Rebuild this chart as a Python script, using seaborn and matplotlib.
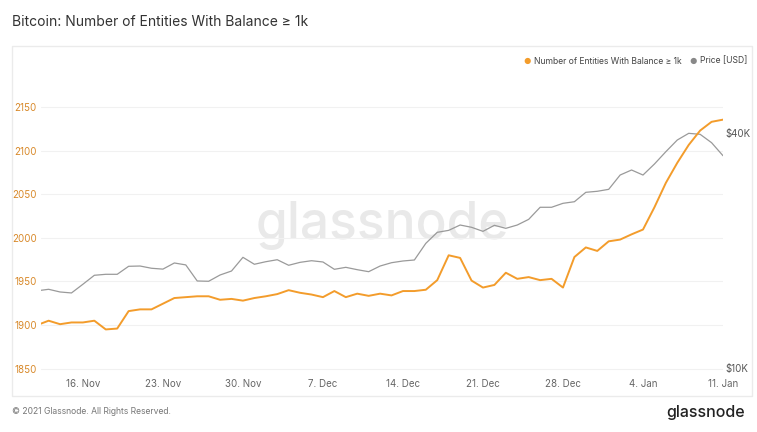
import matplotlib
matplotlib.use("Agg")
import matplotlib.pyplot as plt
import matplotlib.dates as mdates
from matplotlib.patches import Rectangle
from matplotlib.lines import Line2D
from matplotlib.ticker import FixedLocator, FuncFormatter, NullLocator
import seaborn as sns
import pandas as pd

# ---- data ----
dates = pd.date_range("2020-11-12", "2021-01-11", freq="D")
entities = [1900, 1905, 1901, 1903, 1903, 1905, 1895, 1896, 1916, 1918,
            1918, 1924.5, 1931, 1932, 1933, 1933, 1929, 1930, 1928, 1931,
            1933, 1935.5, 1940, 1937, 1935, 1932, 1939, 1932, 1936, 1933.5,
            1936, 1934, 1939, 1939, 1940.5, 1951.5, 1980, 1977, 1951, 1943,
            1946, 1960, 1953, 1955, 1951.5, 1953, 1943, 1978, 1989, 1985,
            1996, 1998, 2004, 2009.5, 2035, 2063, 2086, 2106.5, 2123, 2133,
            2135.5]
price = [15800, 15940, 15690, 15600, 16420, 17310, 17410, 17410, 18250, 18280,
         18040, 17950, 18610, 18400, 16740, 16710, 17340, 17750, 19240, 18470,
         18750, 18970, 18360, 18680, 18860, 18720, 17930, 18140, 17890, 17680,
         18280, 18640, 18830, 18940, 20890, 22290, 22550, 23270, 22960, 22420,
         23230, 22820, 23270, 24060, 25830, 25830, 26440, 26690, 28210, 28380,
         28710, 31230, 32170, 31230, 33320, 35830, 38380, 39920, 39690, 37780,
         34990]
left_ticks = [1850, 1900, 1950, 2000, 2050, 2100, 2150]
right_ticks = [10000, 40000]
right_labels = ["$10K", "$40K"]
x_ticks = pd.date_range("2020-11-16", "2021-01-11", freq="7D")

df = pd.DataFrame({"date": dates, "entities": entities, "price": price})

ORANGE = "#f39c2b"
GRAY = "#9a9a9a"
FONT = ["Inter", "DejaVu Sans"]

sns.set_theme(style="white")
plt.rcParams["font.family"] = FONT

W, H = 757, 432
fig = plt.figure(figsize=(W / 100, H / 100), dpi=100)
fig.patch.set_facecolor("white")

def fx(px):
    return px / W

def fy(py):
    return 1 - py / H

# card border
fig.patches.append(Rectangle((fx(12), fy(396)), fx(752) - fx(12), fy(46) - fy(396),
                             transform=fig.transFigure, fill=False,
                             edgecolor="#ebebeb", linewidth=1.0, zorder=-2))

# watermark (beneath the axes)
fig.text(fx(382), fy(225), "glassnode", ha="center", va="center",
         fontsize=37, color="#e9e9e9", fontweight="medium", family=FONT, zorder=-1)

ax = fig.add_axes([fx(41), fy(372), fx(723) - fx(41), fy(96) - fy(372)])
ax2 = ax.twinx()

sns.lineplot(data=df, x="date", y="price", ax=ax2, color=GRAY, linewidth=0.9, zorder=2)
sns.lineplot(data=df, x="date", y="entities", ax=ax, color=ORANGE, linewidth=1.4)
ax.set_zorder(ax2.get_zorder() + 1)
ax.patch.set_visible(False)
ax2.patch.set_visible(False)

# left axis
ax.set_ylim(1846.2, 2162.6)
ax.set_yticks(left_ticks)
ax.tick_params(axis="y", colors="#d8892a", labelsize=7, length=0, pad=3)
for lab in ax.get_yticklabels():
    lab.set_color("#d8892a")
ax.grid(False)
# horizontal grid drawn beneath the price line (on the lower axes)
for t in left_ticks:
    ax2.add_line(Line2D([0, 1], [t, t], transform=ax.get_yaxis_transform(),
                        color="#f1f1f1", linewidth=0.8, zorder=0.5))

# right axis (log)
ax2.set_yscale("log")
ax2.set_ylim(9796, 49730)
ax2.yaxis.set_major_locator(FixedLocator(right_ticks))
ax2.yaxis.set_minor_locator(NullLocator())
ax2.yaxis.set_major_formatter(FuncFormatter(lambda v, p: right_labels[right_ticks.index(int(round(v)))] if int(round(v)) in right_ticks else ""))
ax2.tick_params(axis="y", colors="#555555", labelsize=7, length=0, pad=2)
ax2.grid(False)

# x axis
ax.set_xlim(pd.Timestamp("2020-11-12 08:00"), pd.Timestamp("2021-01-11 00:00"))
ax.set_xticks(x_ticks)
ax.xaxis.set_major_formatter(mdates.DateFormatter("%-d. %b"))
ax.tick_params(axis="x", colors="#666666", labelsize=7, length=0, pad=5)

for a in (ax, ax2):
    a.set_xlabel("")
    a.set_ylabel("")
    for s in a.spines.values():
        s.set_visible(False)

# title
fig.text(fx(12), fy(22), "Bitcoin: Number of Entities With Balance ≥ 1k",
         ha="left", va="center", fontsize=10, color="#333333", family=FONT)

# legend
fig.text(fx(527), fy(61), "●", ha="center", va="center", fontsize=6, color=ORANGE, family=FONT)
fig.text(fx(534), fy(61), "Number of Entities With Balance ≥ 1k", ha="left", va="center",
         fontsize=6.2, color="#444444", family=FONT)
fig.text(fx(693), fy(61), "●", ha="center", va="center", fontsize=6, color="#888888", family=FONT)
fig.text(fx(700), fy(61), "Price [USD]", ha="left", va="center",
         fontsize=6.2, color="#444444", family=FONT)

# footer
fig.text(fx(12), fy(412), "© 2021 Glassnode. All Rights Reserved.", ha="left", va="center",
         fontsize=6.2, color="#777777", family=FONT)
fig.text(fx(745), fy(412), "glassnode", ha="right", va="center",
         fontsize=11.5, color="#222222", fontweight="medium", family=FONT)

fig.savefig("out.png", dpi=100, facecolor="white")
